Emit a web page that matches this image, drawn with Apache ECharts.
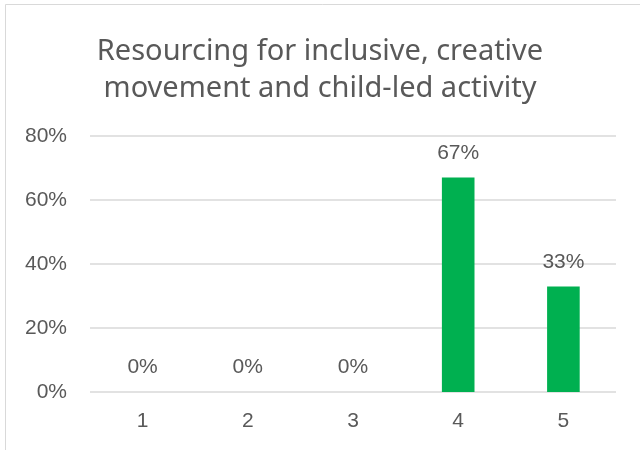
<!DOCTYPE html>
<html>
<head>
<meta charset="utf-8">
<script src="https://cdn.jsdelivr.net/npm/echarts@6/dist/echarts.min.js"></script>
<style>
  html, body { margin: 0; padding: 0; background: #ffffff; }
  #chart { width: 640px; height: 450px; }
</style>
</head>
<body>
<div id="chart"></div>
<script>
// Survey ratings 1-5 and the share of responses for each
const categories = ['1', '2', '3', '4', '5'];
const shares = [0, 0, 0, 67, 33];
const yTicks = [0, 20, 40, 60, 80];

const titleText = 'Resourcing for inclusive, creative\nmovement and child-led activity';
const textColor = '#595959';

const chart = echarts.init(document.getElementById('chart'), null, { renderer: 'canvas' });

chart.setOption({
  backgroundColor: '#ffffff',
  animation: false,
  title: {
    text: titleText,
    left: 'center',
    top: 28,
    textStyle: {
      fontFamily: 'Noto Sans',
      fontSize: 29,
      fontWeight: 'normal',
      lineHeight: 37,
      color: textColor
    }
  },
  graphic: [
    { type: 'line', shape: { x1: 5.5, y1: 4.5, x2: 5.5, y2: 450 }, style: { stroke: '#d9d9d9', lineWidth: 1 }, silent: true },
    { type: 'line', shape: { x1: 5.5, y1: 4.5, x2: 640, y2: 4.5 }, style: { stroke: '#d9d9d9', lineWidth: 1 }, silent: true }
  ],
  grid: { left: 90, right: 24, top: 136, bottom: 58, containLabel: false },
  xAxis: {
    type: 'category',
    data: categories,
    axisLine: { show: false },
    axisTick: { show: false },
    axisLabel: { margin: 19, fontFamily: 'Liberation Sans', fontSize: 21, color: textColor }
  },
  yAxis: {
    type: 'value',
    min: yTicks[0],
    max: yTicks[yTicks.length - 1],
    interval: yTicks[1] - yTicks[0],
    axisLine: { show: false },
    axisTick: { show: false },
    splitLine: { lineStyle: { color: '#d9d9d9', width: 1.5 } },
    axisLabel: { margin: 23, fontFamily: 'Liberation Sans', fontSize: 21, color: textColor, formatter: '{value}%' }
  },
  series: [{
    type: 'bar',
    data: shares,
    barWidth: '31%',
    itemStyle: { color: '#00b050' },
    label: {
      show: true,
      position: 'top',
      distance: 14,
      formatter: '{c}%',
      fontFamily: 'Liberation Sans',
      fontSize: 21,
      color: textColor
    }
  }]
});
</script>
</body>
</html>
